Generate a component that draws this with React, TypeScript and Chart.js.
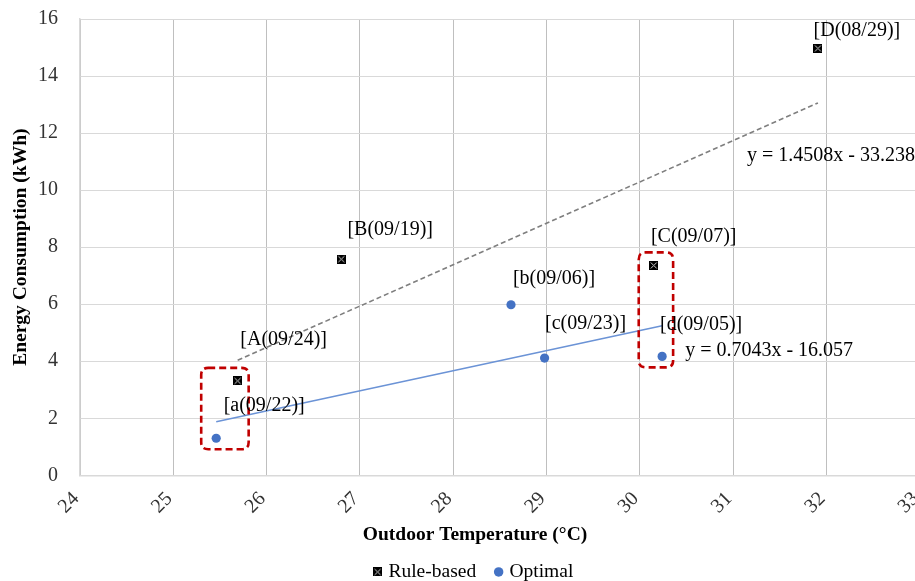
import React, { useEffect, useRef } from 'react';
import { Chart, registerables } from 'chart.js';

Chart.register(...registerables);

// ---------------- data ----------------
const ruleTemps = [25.69, 26.8, 30.15, 31.91];
const ruleEnergy = [3.31, 7.58, 7.36, 14.97];
const ruleLabels = ['[A(09/24)]', '[B(09/19)]', '[C(09/07)]', '[D(08/29)]'];

const optTemps = [25.46, 28.62, 28.98, 30.24];
const optEnergy = [1.3, 5.98, 4.11, 4.17];
const optLabels = ['[a(09/22)]', '[b(09/06)]', '[c(09/23)]', '[d(09/05)]'];

const ruleSlope = 1.4508;
const ruleIntercept = -33.238;
const optSlope = 0.7043;
const optIntercept = -16.057;
const ruleEquation = 'y = 1.4508x - 33.238';
const optEquation = 'y = 0.7043x - 16.057';

const xMin = 24;
const xMax = 33;
const xStep = 1;
const yMin = 0;
const yMax = 16;
const yStep = 2;

const seriesNames = ['Rule-based', 'Optimal'];
const xTitle = 'Outdoor Temperature (°C)';
const yTitle = 'Energy Consumption (kWh)';

// highlighted pairs: [rule index, optimal index]
const highlightPairs = [
  [0, 0],
  [2, 3],
];

// ---------------- styles ----------------
const FONT = '"Liberation Serif", "Times New Roman", serif';
const BLUE = '#4472C4';
const ruleLabelOffsets = [
  [46, -41],
  [49, -29],
  [40, -29],
  [39, -18],
];
const optLabelOffsets = [
  [48, -32],
  [43, -26],
  [41, -34],
  [39, -32],
];
const ruleEqOffset = [13, 53];
const optEqOffset = [107, 25];
const boxPad = { l: 15, r: 11, t: 13, b: 11 };

function makeBoxX(size: number) {
  const c = document.createElement('canvas');
  c.width = size;
  c.height = size;
  const g = c.getContext('2d') as CanvasRenderingContext2D;
  g.fillStyle = '#000';
  g.fillRect(0, 0, size, size);
  g.strokeStyle = '#d0d0d0';
  g.lineWidth = 1;
  g.beginPath();
  g.moveTo(1.5, 1.5);
  g.lineTo(size - 1.5, size - 1.5);
  g.moveTo(size - 1.5, 1.5);
  g.lineTo(1.5, size - 1.5);
  g.stroke();
  return c;
}

function roundRect(ctx: CanvasRenderingContext2D, x: number, y: number, w: number, h: number, r: number) {
  ctx.beginPath();
  ctx.moveTo(x + r, y);
  ctx.lineTo(x + w - r, y);
  ctx.quadraticCurveTo(x + w, y, x + w, y + r);
  ctx.lineTo(x + w, y + h - r);
  ctx.quadraticCurveTo(x + w, y + h, x + w - r, y + h);
  ctx.lineTo(x + r, y + h);
  ctx.quadraticCurveTo(x, y + h, x, y + h - r);
  ctx.lineTo(x, y + r);
  ctx.quadraticCurveTo(x, y, x + r, y);
  ctx.closePath();
}

const annotationPlugin = {
  id: 'annotations',
  afterDatasetsDraw(chart: any) {
    const ctx: CanvasRenderingContext2D = chart.ctx;
    const m0 = chart.getDatasetMeta(0).data;
    const m1 = chart.getDatasetMeta(1).data;
    const m2 = chart.getDatasetMeta(2).data;
    const m3 = chart.getDatasetMeta(3).data;
    ctx.save();
    // highlight boxes
    ctx.strokeStyle = '#C00000';
    ctx.lineWidth = 2.6;
    ctx.setLineDash([7, 4]);
    highlightPairs.forEach(([ri, oi]) => {
      const a = m0[ri];
      const b = m1[oi];
      const x0 = Math.min(a.x, b.x) - boxPad.l;
      const x1 = Math.max(a.x, b.x) + boxPad.r;
      const y0 = Math.min(a.y, b.y) - boxPad.t;
      const y1 = Math.max(a.y, b.y) + boxPad.b;
      roundRect(ctx, x0, y0, x1 - x0, y1 - y0, 7);
      ctx.stroke();
    });
    ctx.setLineDash([]);
    // labels
    ctx.font = `20px ${FONT}`;
    ctx.fillStyle = '#000';
    ctx.textAlign = 'center';
    ctx.textBaseline = 'middle';
    ruleLabels.forEach((t, i) => {
      const p = m0[i];
      ctx.fillText(t, p.x + ruleLabelOffsets[i][0], p.y + ruleLabelOffsets[i][1]);
    });
    optLabels.forEach((t, i) => {
      const p = m1[i];
      ctx.fillText(t, p.x + optLabelOffsets[i][0], p.y + optLabelOffsets[i][1]);
    });
    const re = m2[m2.length - 1];
    ctx.fillText(ruleEquation, re.x + ruleEqOffset[0], re.y + ruleEqOffset[1]);
    const oe = m3[m3.length - 1];
    ctx.fillText(optEquation, oe.x + optEqOffset[0], oe.y + optEqOffset[1]);
    ctx.restore();
  },
};

function trend(xs: number[], slope: number, intercept: number) {
  const lo = Math.min(...xs);
  const hi = Math.max(...xs);
  return [
    { x: lo, y: slope * lo + intercept },
    { x: hi, y: slope * hi + intercept },
  ];
}

export default function App() {
  const ref = useRef<HTMLCanvasElement | null>(null);
  useEffect(() => {
    if (!ref.current) return;
    const boxX = makeBoxX(9);
    const chart = new Chart(ref.current, {
      type: 'scatter',
      data: {
        datasets: [
          {
            label: seriesNames[0],
            data: ruleTemps.map((x, i) => ({ x, y: ruleEnergy[i] })),
            pointStyle: boxX as any,
            pointRadius: 4.5,
            backgroundColor: '#000',
            borderColor: '#000',
          },
          {
            label: seriesNames[1],
            data: optTemps.map((x, i) => ({ x, y: optEnergy[i] })),
            pointStyle: 'circle',
            pointRadius: 4.6,
            pointBorderWidth: 0,
            backgroundColor: BLUE,
            borderColor: BLUE,
          },
          {
            label: 'rule-trend',
            type: 'line',
            data: trend(ruleTemps, ruleSlope, ruleIntercept),
            borderColor: '#7F7F7F',
            borderWidth: 1.6,
            borderDash: [5, 3],
            pointRadius: 0,
            showLine: true,
            fill: false,
          } as any,
          {
            label: 'opt-trend',
            type: 'line',
            data: trend(optTemps, optSlope, optIntercept),
            borderColor: '#6B93D6',
            borderWidth: 1.5,
            pointRadius: 0,
            showLine: true,
            fill: false,
          } as any,
        ],
      },
      options: {
        animation: false,
        responsive: false,
        layout: { padding: { top: 19, right: 0, left: 0, bottom: 7.3 } },
        scales: {
          x: {
            type: 'linear',
            min: xMin,
            max: xMax,
            ticks: {
              stepSize: xStep,
              minRotation: 45,
              maxRotation: 45,
              padding: 12,
              labelOffset: -4,
              color: '#333',
              font: { family: FONT, size: 20 },
            },
            grid: { color: '#BFBFBF', drawTicks: false },
            border: { color: '#D9D9D9', width: 1.5 },
            afterFit: (s: any) => {
              s.height = 40;
              s.paddingRight = 30.4;
            },
          },
          y: {
            min: yMin,
            max: yMax,
            ticks: {
              stepSize: yStep,
              padding: 22,
              color: '#333',
              font: { family: FONT, size: 20 },
            },
            grid: { color: '#D9D9D9', drawTicks: false },
            border: { color: '#D9D9D9', width: 1.5 },
            title: {
              display: true,
              text: yTitle,
              color: '#000',
              font: { family: FONT, size: 19.5, weight: 'bold' },
              padding: { top: 9.5, bottom: 0 },
            },
            afterFit: (s: any) => {
              s.width = 80;
              s.paddingTop = 0;
              s.paddingBottom = 0;
            },
          },
        },
        plugins: {
          legend: {
            position: 'bottom',
            labels: {
              usePointStyle: true,
              boxWidth: 2,
              boxHeight: 6.7,
              color: '#000',
              font: { family: FONT, size: 19.5 },
              padding: 21.5,
              filter: (item: any) => item.datasetIndex < 2,
            },
          },
          title: {
            display: true,
            position: 'bottom',
            weight: 500,
            text: xTitle,
            color: '#000',
            font: { family: FONT, size: 19.5, weight: 'bold' },
            padding: { top: 8, bottom: -6 },
          } as any,
          tooltip: { enabled: false },
        },
      },
      plugins: [annotationPlugin],
    });
    return () => chart.destroy();
  }, []);
  return (
    <div style={{ position: 'fixed', left: 0, top: 0, width: 915, height: 581, overflow: 'hidden', background: '#fff' }}>
      <canvas ref={ref} width={950} height={599} style={{ display: 'block', width: 950, height: 599 }} />
    </div>
  );
}
